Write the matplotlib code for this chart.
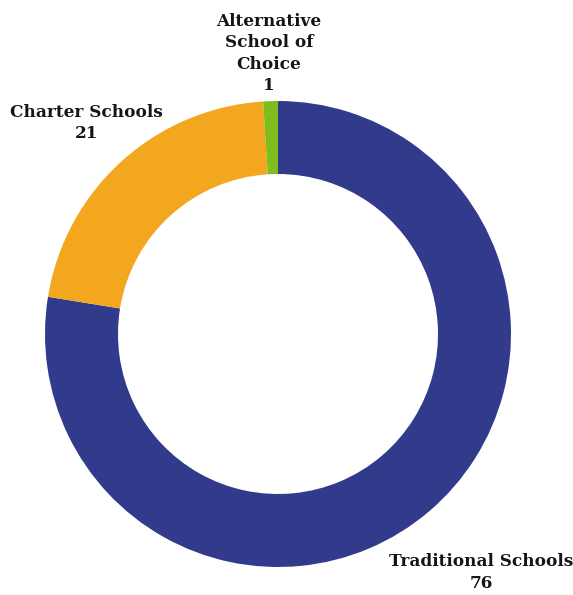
import numpy as np
import matplotlib
matplotlib.use("Agg")
import matplotlib.pyplot as plt

categories = ["Traditional Schools", "Charter Schools", "Alternative\nSchool of\nChoice"]
values = [76, 21, 1]
colors = ["#323A8C", "#F3A71F", "#7DBE1E"]
label_dist = [1.345, 1.225, 1.205]

W, H = 573, 595
fig = plt.figure(figsize=(W / 100, H / 100), dpi=100)
ax = fig.add_axes([0, 0, 1, 1])
ax.set_xlim(0, W)
ax.set_ylim(0, H)
ax.axis("off")

cx, cy, R = 278, H - 334, 233
wedges, _ = ax.pie(values, colors=colors, startangle=90, counterclock=False,
                   center=(cx, cy), radius=R,
                   wedgeprops=dict(width=R - 160, edgecolor="none"))
ax.set_xlim(0, W)
ax.set_ylim(0, H)
ax.set_aspect("equal")

for w, cat, v, d in zip(wedges, categories, values, label_dist):
    ang = np.deg2rad((w.theta1 + w.theta2) / 2)
    x = cx + d * R * np.cos(ang)
    y = cy + d * R * np.sin(ang)
    ax.text(x, y, f"{cat}\n{v}", ha="center", va="center", family="DejaVu Serif",
            fontweight="bold", fontsize=12.2, color="#151515", linespacing=1.33)

fig.savefig("out.png", dpi=100)
